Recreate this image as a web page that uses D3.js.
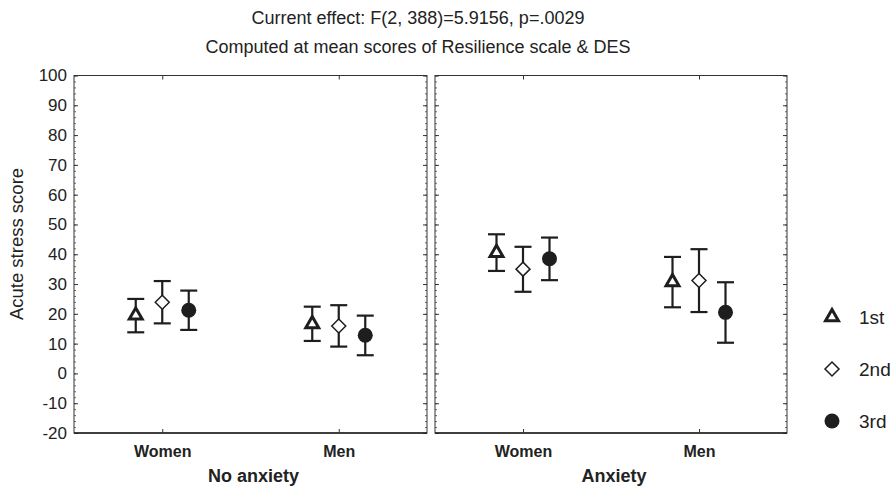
<!DOCTYPE html>
<html>
<head>
<meta charset="utf-8">
<script src="https://cdn.jsdelivr.net/npm/d3@7"></script>
<style>
  html, body { margin: 0; padding: 0; background: #fff; }
  svg { display: block; font-family: "Liberation Sans", Arial, sans-serif; }
</style>
</head>
<body>
<svg id="chart" width="893" height="487"></svg>
<script>
// Panels (anxiety groups), categories within each panel, and series (assessments)
const panels = ["No anxiety", "Anxiety"];
const genders = ["Women", "Men"];
const series = ["1st", "2nd", "3rd"];

// Mean acute stress score, indexed [panel][gender][series]
const means = [
  [[19.5, 23.9, 21.2], [16.6, 15.9, 12.8]],
  [[40.5, 35.0, 38.5], [30.7, 31.2, 20.5]]
];
// Lower / upper ends of the error bars, same layout
const lower = [
  [[13.8, 16.8, 14.6], [10.9, 9.0, 6.1]],
  [[34.4, 27.4, 31.3], [22.2, 20.6, 10.3]]
];
const upper = [
  [[25.0, 31.0, 27.8], [22.4, 22.9, 19.4]],
  [[46.7, 42.5, 45.6], [39.1, 41.7, 30.6]]
];
const yTicks = d3.range(-20, 101, 10);
const titleLines = [
  "Current effect: F(2, 388)=5.9156, p=.0029",
  "Computed at mean scores of Resilience scale & DES"
];
const yTitle = "Acute stress score";

const svg = d3.select("#chart");
const ink = "#1e1e1e";
const textInk = "#222";

const plotTop = 75.5, plotBottom = 433;
const panelX = [[74, 427], [435, 787]];

const y = d3.scaleLinear().domain([-20, 100]).range([plotBottom, plotTop]);

// Title
svg.append("g").selectAll("text").data(titleLines).join("text")
  .attr("x", 418).attr("y", (d, i) => 24 + i * 29)
  .attr("text-anchor", "middle")
  .attr("font-size", 18).attr("fill", textInk)
  .text(d => d);

// Y axis title
svg.append("text")
  .attr("transform", "translate(23,244) rotate(-90)")
  .attr("text-anchor", "middle")
  .attr("font-size", 18.5).attr("fill", textInk)
  .text(yTitle);

// Y tick labels on the outer left edge
const yLab = svg.append("g").attr("transform", `translate(${panelX[0][0]},0)`)
  .call(d3.axisLeft(y).tickValues(yTicks).tickSize(0).tickPadding(7)
    .tickFormat(d => String(d)));
yLab.select(".domain").remove();
yLab.selectAll("text").attr("font-size", 17).attr("fill", textInk)
  .attr("font-family", "Liberation Sans, Arial, sans-serif");

// Marker shapes
const triPath = d3.symbol().type(d3.symbolTriangle).size(72)();
const diaPath = "M0,-7L7,0L0,7L-7,0Z";

function drawMarker(g, s) {
  if (s === 0) {
    g.append("path").attr("d", triPath)
      .attr("fill", "#fff").attr("stroke", ink).attr("stroke-width", 3)
      .attr("stroke-linejoin", "miter");
  } else if (s === 1) {
    g.append("path").attr("d", diaPath)
      .attr("fill", "#fff").attr("stroke", ink).attr("stroke-width", 1.5);
  } else {
    g.append("circle").attr("r", 7.5).attr("fill", ink);
  }
}

panels.forEach((pname, p) => {
  const [x0, x1] = panelX[p];
  const g = svg.append("g");

  const xCat = d3.scalePoint().domain(genders).range([x0, x1]).padding(0.5);
  const xOff = d3.scalePoint().domain(series).range([-26.5, 26.5]);

  // frame
  g.append("rect").attr("x", x0).attr("y", plotTop)
    .attr("width", x1 - x0).attr("height", plotBottom - plotTop)
    .attr("fill", "none").attr("stroke", "#333").attr("stroke-width", 1);

  // inward ticks on left and right edges
  const minor = d3.range(-20, 101, 2);
  [[d3.axisLeft, x0], [d3.axisRight, x1]].forEach(([ax, xp]) => {
    const a1 = g.append("g").attr("transform", `translate(${xp},0)`)
      .call(ax(y).tickValues(minor).tickSize(-2).tickFormat(""));
    a1.select(".domain").remove();
    a1.selectAll("line").attr("stroke", "#444").attr("stroke-width", 0.8);
    const a2 = g.append("g").attr("transform", `translate(${xp},0)`)
      .call(ax(y).tickValues(yTicks).tickSize(-4).tickFormat(""));
    a2.select(".domain").remove();
    a2.selectAll("line").attr("stroke", "#333");
  });

  // category ticks on top and bottom, with labels below
  const xb = g.append("g").attr("transform", `translate(0,${plotBottom})`)
    .call(d3.axisBottom(xCat).tickSize(-4).tickPadding(13));
  xb.select(".domain").attr("stroke", "#222").attr("stroke-width", 1.5)
    .attr("d", `M${x0},0H${x1}`);
  xb.selectAll("line").attr("stroke", "#333");
  xb.selectAll("text").attr("font-size", 16).attr("font-weight", "bold")
    .attr("fill", textInk).attr("font-family", "Liberation Sans, Arial, sans-serif");
  const xt = g.append("g").attr("transform", `translate(0,${plotTop})`)
    .call(d3.axisTop(xCat).tickSize(-4).tickFormat(""));
  xt.select(".domain").remove();
  xt.selectAll("line").attr("stroke", "#333");

  // panel label
  g.append("text").attr("x", (x0 + x1) / 2 + 3).attr("y", 482)
    .attr("text-anchor", "middle").attr("font-size", 18).attr("font-weight", "bold")
    .attr("fill", textInk).text(pname);

  // error bars and markers
  genders.forEach((gn, gi) => {
    series.forEach((sn, s) => {
      const cx = xCat(gn) + xOff(sn);
      const lo = y(lower[p][gi][s]), hi = y(upper[p][gi][s]);
      const eb = g.append("g").attr("stroke", ink).attr("stroke-width", 2.2);
      eb.append("line").attr("x1", cx).attr("x2", cx).attr("y1", lo).attr("y2", hi);
      eb.append("line").attr("x1", cx - 8.5).attr("x2", cx + 8.5).attr("y1", lo).attr("y2", lo);
      eb.append("line").attr("x1", cx - 8.5).attr("x2", cx + 8.5).attr("y1", hi).attr("y2", hi);
      const m = g.append("g").attr("transform", `translate(${cx},${y(means[p][gi][s])})`);
      drawMarker(m, s);
    });
  });
});

// Legend
const legY = [317, 369, 421];
series.forEach((sn, s) => {
  const m = svg.append("g").attr("transform", `translate(832,${legY[s]})`);
  drawMarker(m, s);
  svg.append("text").attr("x", 859).attr("y", legY[s] + 6.5)
    .attr("font-size", 19).attr("fill", textInk).text(sn);
});
</script>
</body>
</html>
